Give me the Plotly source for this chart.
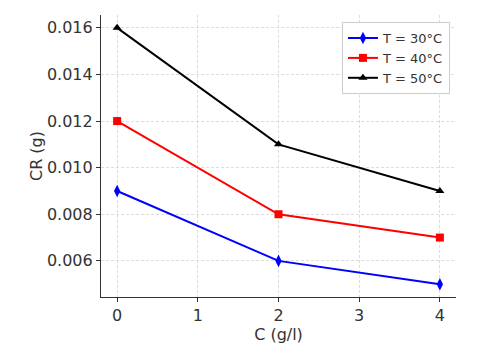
import plotly.graph_objects as go

conc = [0, 2, 4]
cr_30 = [0.009, 0.006, 0.005]
cr_40 = [0.012, 0.008, 0.007]
cr_50 = [0.016, 0.011, 0.009]

fig = go.Figure()
fig.add_trace(go.Scatter(x=conc, y=cr_30, name="T = 30°C", mode="lines+markers",
                         line=dict(color="blue", width=2),
                         marker=dict(symbol="diamond-tall", size=9, color="blue")))
fig.add_trace(go.Scatter(x=conc, y=cr_40, name="T = 40°C", mode="lines+markers",
                         line=dict(color="red", width=2),
                         marker=dict(symbol="square", size=8, color="red")))
fig.add_trace(go.Scatter(x=conc, y=cr_50, name="T = 50°C", mode="lines+markers",
                         line=dict(color="black", width=2),
                         marker=dict(symbol="triangle-up", size=8, color="black")))

axis_font = dict(family="DejaVu Sans", size=16, color="#333333")
# page body adds ~8px offset, margins compensate for it
fig.update_layout(
    width=480, height=348,
    margin=dict(l=93, r=32, t=7, b=59),
    paper_bgcolor="white", plot_bgcolor="white",
    font=dict(family="DejaVu Sans", color="#333333"),
    legend=dict(x=0.983, y=0.975, xanchor="right", yanchor="top",
                bgcolor="white", bordercolor="#cccccc", borderwidth=1,
                font=dict(size=13, color="#333333"),
                tracegroupgap=0, itemwidth=30),
)
fig.update_xaxes(range=[-0.2, 4.2], tickvals=[0, 1, 2, 3, 4], automargin=False,
                 title=dict(text="C (g/l)", font=axis_font, standoff=0),
                 tickfont=axis_font, showline=True, linecolor="#333333", linewidth=1.2,
                 ticks="outside", ticklen=4, tickcolor="#333333",
                 showgrid=True, gridcolor="#dddddd", griddash="3px,2px", gridwidth=0.8,
                 zeroline=False, mirror=False)
fig.update_yaxes(range=[0.00445, 0.01655], tickvals=[0.006, 0.008, 0.010, 0.012, 0.014, 0.016],
                 tickformat=".3f", automargin=False,
                 title=dict(text="CR (g)", font=axis_font, standoff=0),
                 tickfont=axis_font, showline=True, linecolor="#333333", linewidth=1.2,
                 ticks="outside", ticklen=4, tickcolor="#333333",
                 showgrid=True, gridcolor="#dddddd", griddash="3px,2px", gridwidth=0.8,
                 zeroline=False, mirror=False)

fig.write_html("out.html")
